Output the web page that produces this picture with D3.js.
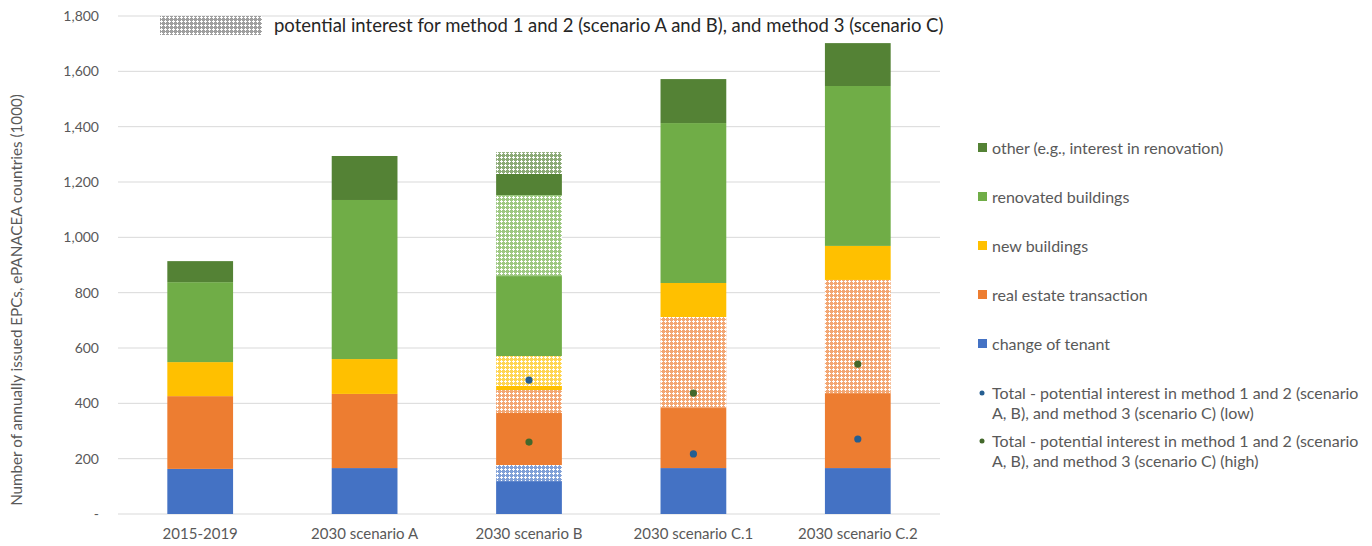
<!DOCTYPE html>
<html><head><meta charset="utf-8">
<script src="https://cdn.jsdelivr.net/npm/d3@7"></script>
<style>
html,body{margin:0;padding:0;background:#fff;}
svg{display:block;font-family:Lato,"Open Sans",sans-serif;}
</style></head>
<body>
<svg id="chart" width="1372" height="546"></svg>
<script>
// ---- data ----
const categories = ["2015-2019","2030 scenario A","2030 scenario B","2030 scenario C.1","2030 scenario C.2"];
const tenant        = [163,166,119,166,166];
const tenantPot     = [0,0,58,0,0];
const realEstate    = [263,268,188,217,271];
const realEstatePot = [0,0,83,329,409];
const newBuild      = [123,126,15,123,123];
const newBuildPot   = [0,0,108,0,0];
const renovated     = [289,575,289,578,578];
const renovatedPot  = [0,0,293,0,0];
const other         = [76,159,76,159,155];
const otherPot      = [0,0,79,0,0];
const totalLow      = [null,null,484,217,271];
const totalHigh     = [null,null,260,437,542];
const yTicks = [0,200,400,600,800,1000,1200,1400,1600,1800];
const legendLabels = ["other (e.g., interest in renovation)","renovated buildings","new buildings","real estate transaction","change of tenant"];
const dotLegend = [
  ["Total - potential interest in method 1 and 2 (scenario","A, B), and method 3 (scenario C) (low)"],
  ["Total - potential interest in method 1 and 2 (scenario","A, B), and method 3 (scenario C) (high)"]
];
const patternLegend = "potential interest for method 1 and 2 (scenario A and B), and method 3 (scenario C)";

// ---- styling ----
const colors = {tenant:"#4472c4", realEstate:"#ed7d31", newBuild:"#ffc000", renovated:"#70ad47", other:"#548235"};
const txt = "#595959";

const seriesDefs = [
  {key:"tenant", vals:tenant, base:"tenant", pot:false},
  {key:"tenantPot", vals:tenantPot, base:"tenant", pot:true},
  {key:"realEstate", vals:realEstate, base:"realEstate", pot:false},
  {key:"realEstatePot", vals:realEstatePot, base:"realEstate", pot:true},
  {key:"newBuild", vals:newBuild, base:"newBuild", pot:false},
  {key:"newBuildPot", vals:newBuildPot, base:"newBuild", pot:true},
  {key:"renovated", vals:renovated, base:"renovated", pot:false},
  {key:"renovatedPot", vals:renovatedPot, base:"renovated", pot:true},
  {key:"other", vals:other, base:"other", pot:false},
  {key:"otherPot", vals:otherPot, base:"other", pot:true}
];
const table = categories.map((c,i)=>{
  const row = {category:c};
  seriesDefs.forEach(s=>row[s.key]=s.vals[i]);
  return row;
});

const svg = d3.select("#chart");
const defs = svg.append("defs");
function makePattern(id, color, op){
  const p = defs.append("pattern").attr("id",id).attr("patternUnits","userSpaceOnUse")
    .attr("width",4).attr("height",4);
  p.append("rect").attr("width",4).attr("height",4).attr("fill","#fff");
  p.append("rect").attr("width",4).attr("height",4).attr("fill",color).attr("opacity",op);
  p.append("rect").attr("x",1).attr("y",0).attr("width",1).attr("height",3).attr("fill","#fff");
  p.append("rect").attr("x",0).attr("y",1).attr("width",3).attr("height",1).attr("fill","#fff");
}
Object.keys(colors).forEach(k=>makePattern("pat-"+k, colors[k], 0.68));
makePattern("pat-grey","#7f7f7f", 0.75);

const x = d3.scaleBand().domain(categories).range([118,940]).paddingInner(0.6).paddingOuter(0.3);
const y = d3.scaleLinear().domain([0,1800]).range([514,16]);

// gridlines
svg.append("g").selectAll("line").data(yTicks).join("line")
  .attr("x1",118).attr("x2",940)
  .attr("y1",d=>y(d)).attr("y2",d=>y(d))
  .attr("stroke","#d9d9d9").attr("stroke-width",1);

// y axis labels
const yAxis = d3.axisLeft(y).tickValues(yTicks).tickSize(0).tickPadding(0)
  .tickFormat(d=> d===0 ? "-" : d3.format(",")(d));
const ya = svg.append("g").attr("transform","translate(99,0)").call(yAxis);
ya.select(".domain").remove();
ya.selectAll("text").attr("fill",txt).attr("font-size","14px").attr("font-family","Lato,sans-serif");

// x axis labels
const xAxis = d3.axisBottom(x).tickSize(0).tickPadding(0);
const xa = svg.append("g").attr("transform","translate(0,528)").call(xAxis);
xa.select(".domain").remove();
xa.selectAll("text").attr("fill",txt).attr("font-size","15px").attr("font-family","Lato,sans-serif");

// stacked bars
const stack = d3.stack().keys(seriesDefs.map(s=>s.key));
const stacked = stack(table);
stacked.forEach((layer,li)=>{
  const def = seriesDefs[li];
  const fill = def.pot ? "url(#pat-"+def.base+")" : colors[def.base];
  svg.append("g").selectAll("rect").data(layer.filter(d=>d[1]-d[0]>0)).join("rect")
    .attr("x",d=>x(d.data.category))
    .attr("width",x.bandwidth())
    .attr("y",d=>y(d[1]))
    .attr("height",d=>y(d[0])-y(d[1]))
    .attr("fill",fill);
});

// dots
const dotData = [];
categories.forEach((c,i)=>{
  if(totalLow[i]!=null) dotData.push({c, v:totalLow[i], col:"#255e91"});
  if(totalHigh[i]!=null) dotData.push({c, v:totalHigh[i], col:"#43682b"});
});
svg.append("g").selectAll("circle").data(dotData).join("circle")
  .attr("cx",d=>x(d.c)+x.bandwidth()/2)
  .attr("cy",d=>y(d.v))
  .attr("r",3.6)
  .attr("fill",d=>d.col);

// y title
svg.append("text")
  .attr("transform","translate(22,300) rotate(-90)")
  .attr("text-anchor","middle")
  .attr("fill",txt).attr("font-size","15.2px")
  .text("Number of annually issued EPCs, ePANACEA countries (1000)");

// top pattern legend
svg.append("rect").attr("x",160).attr("y",16).attr("width",102).attr("height",19)
  .attr("fill","url(#pat-grey)");
svg.append("text").attr("x",274).attr("y",32).attr("fill","#262626").attr("font-size","18.5px")
  .text(patternLegend);

// right legend
const legColors = [colors.other, colors.renovated, colors.newBuild, colors.realEstate, colors.tenant];
const lg = svg.append("g");
legendLabels.forEach((lab,i)=>{
  const cy = 148 + i*49;
  lg.append("rect").attr("x",978).attr("y",cy-5).attr("width",9).attr("height",9).attr("fill",legColors[i]);
  lg.append("text").attr("x",992).attr("y",cy+5.5).attr("fill",txt).attr("font-size","16px").text(lab);
});
const dotCols = ["#255e91","#43682b"];
dotLegend.forEach((lines,i)=>{
  const cy = 393 + i*48;
  lg.append("circle").attr("cx",982).attr("cy",cy).attr("r",2.5).attr("fill",dotCols[i]);
  lines.forEach((ln,j)=>{
    lg.append("text").attr("x",992).attr("y",cy+6+j*20).attr("fill",txt).attr("font-size","16px").text(ln);
  });
});
</script>
</body></html>
